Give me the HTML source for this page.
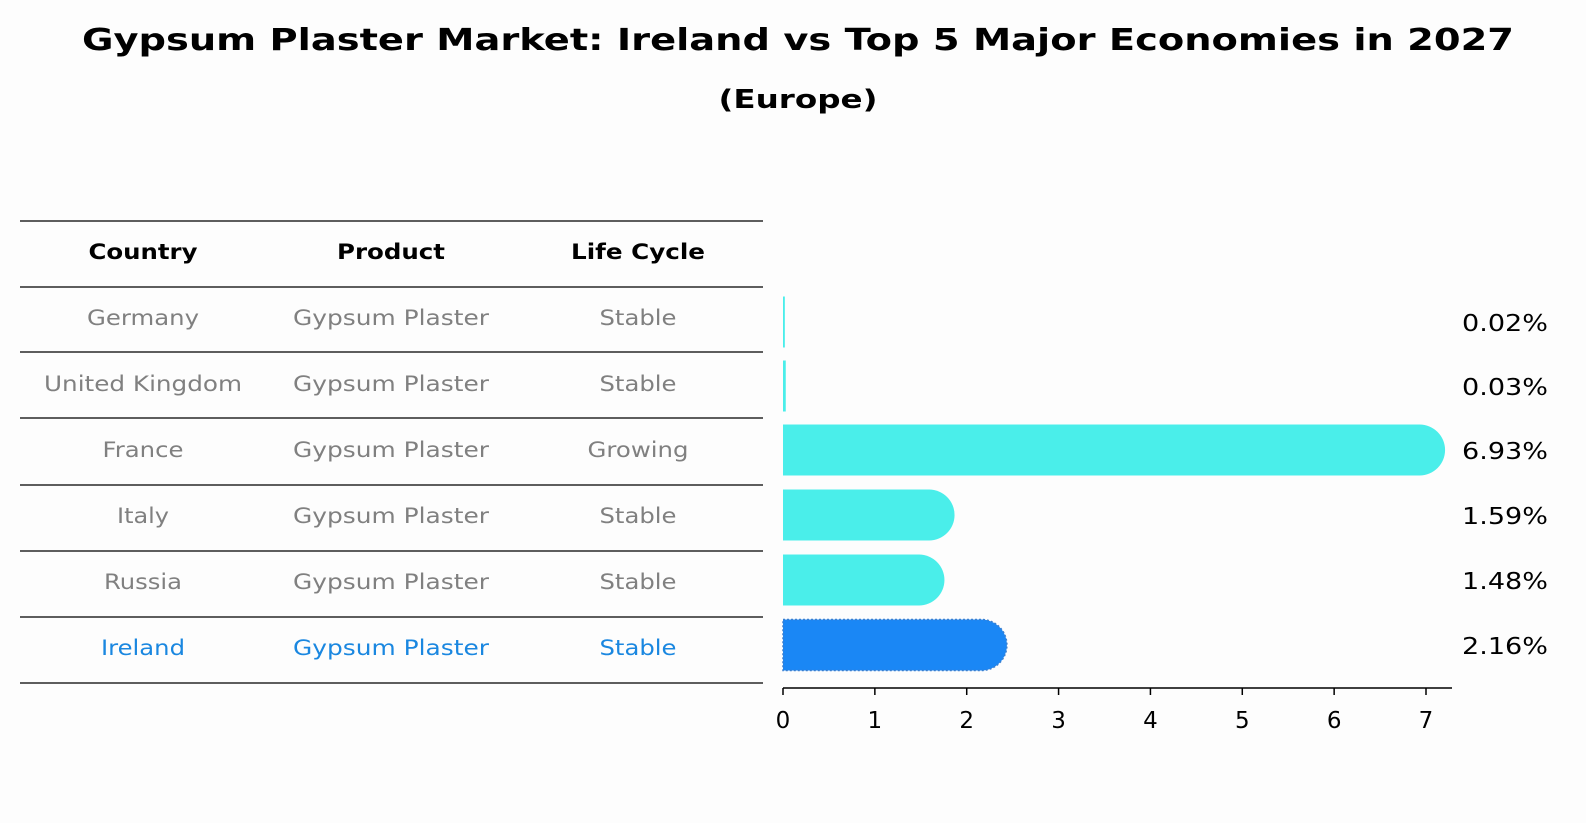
<!DOCTYPE html>
<html><head><meta charset="utf-8"><style>
body{margin:0;background:#fff;font-family:"DejaVu Sans","Liberation Sans",sans-serif}
svg text{font-family:"DejaVu Sans","Liberation Sans",sans-serif}
</style></head><body>
<svg id="c" width="1586" height="823" xmlns="http://www.w3.org/2000/svg">
<rect width="1586" height="823" fill="#fdfdfd"/>
<text x="798" y="50" text-anchor="middle" font-size="30" font-weight="bold" textLength="1432" lengthAdjust="spacingAndGlyphs">Gypsum Plaster Market: Ireland vs Top 5 Major Economies in 2027</text>
<text x="798" y="108" text-anchor="middle" font-size="26" font-weight="bold" textLength="159" lengthAdjust="spacingAndGlyphs">(Europe)</text>
<g id="tbl"></g>
<g id="bars"></g>
</svg>
<script>
const countries=["Germany","United Kingdom","France","Italy","Russia","Ireland"];
const products=["Gypsum Plaster","Gypsum Plaster","Gypsum Plaster","Gypsum Plaster","Gypsum Plaster","Gypsum Plaster"];
const lifeCycles=["Stable","Stable","Growing","Stable","Stable","Stable"];
const values=[0.02,0.03,6.93,1.59,1.48,2.16];
const valueLabels=["0.02%","0.03%","6.93%","1.59%","1.48%","2.16%"];
const xTicks=[0,1,2,3,4,5,6,7];

const W={"Country":109,"Product":108,"Life Cycle":134,"Germany":112,"United Kingdom":198,"Gypsum Plaster":196,"Stable":77,"Growing":101,"France":81,"Italy":52,"Russia":78,"Ireland":84};
const NS="http://www.w3.org/2000/svg";
function mk(t,a,p,txt){const e=document.createElementNS(NS,t);for(const k in a)e.setAttribute(k,a[k]);if(txt!==undefined)e.textContent=txt;p.appendChild(e);return e;}
function fit(e,w){if(w){e.setAttribute('textLength',w);e.setAttribute('lengthAdjust','spacingAndGlyphs');}}
const tbl=document.getElementById('tbl'),bars=document.getElementById('bars');
const lineYs=[221,287,352,418,485,551,617,683];
lineYs.forEach((y,i)=>{const l=mk('line',{x1:20,x2:763,y1:y,y2:y,stroke:'#000','stroke-width':1.2},tbl);

});
const colX=[143,391,638];
["Country","Product","Life Cycle"].forEach((h,i)=>{const t=mk('text',{x:colX[i],y:259,'text-anchor':'middle','font-size':21,'font-weight':'bold'},tbl,h);fit(t,W[h]);

});
const rowCY=[318,384,450,516,582,648];
countries.forEach((c,i)=>{const col=i===countries.length-1?'#1a87e0':'#808080';
[c,products[i],lifeCycles[i]].forEach((v,j)=>{const t=mk('text',{x:colX[j],y:rowCY[i]+7,'text-anchor':'middle','font-size':21,fill:col},tbl,v);fit(t,W[v]);

});});

const x0=783,pxPer=(1426-783)/7;
const xs=v=>x0+v*pxPer;
const barCY=[322,386,450,515,580,645],bh=51;
values.forEach((v,i)=>{const w=xs(v)-x0;const r=Math.min(bh/2,w);
const col=i===values.length-1?'#1a87f5':'#4aeeea';
const y=barCY[i]-bh/2;
let p;
if(w<bh/2){p=mk('rect',{x:x0,y:y,width:Math.max(w,1.5),height:bh,fill:col},bars);}
else{const d=`M${x0},${y} H${x0+w} A${r},${bh/2} 0 0 1 ${x0+w},${y+bh} H${x0} Z`;
p=mk('path',{d:d,fill:col},bars);}
if(i===values.length-1){p.setAttribute('stroke','#3a7fd0');p.setAttribute('stroke-dasharray','2,2');p.setAttribute('stroke-width','1.5');}


const t=mk('text',{x:1505,y:barCY[i]+9,'text-anchor':'middle','font-size':23},bars,valueLabels[i]);fit(t,86);

});
const ax=mk('line',{x1:x0,x2:1452,y1:688,y2:688,stroke:'#000','stroke-width':1.5},bars);


xTicks.forEach(v=>{const tk=mk('line',{x1:xs(v),x2:xs(v),y1:688,y2:695,stroke:'#000','stroke-width':1.5},bars);


const t=mk('text',{x:xs(v),y:728,'text-anchor':'middle','font-size':23},bars,String(v));

});
</script>
</body></html>
